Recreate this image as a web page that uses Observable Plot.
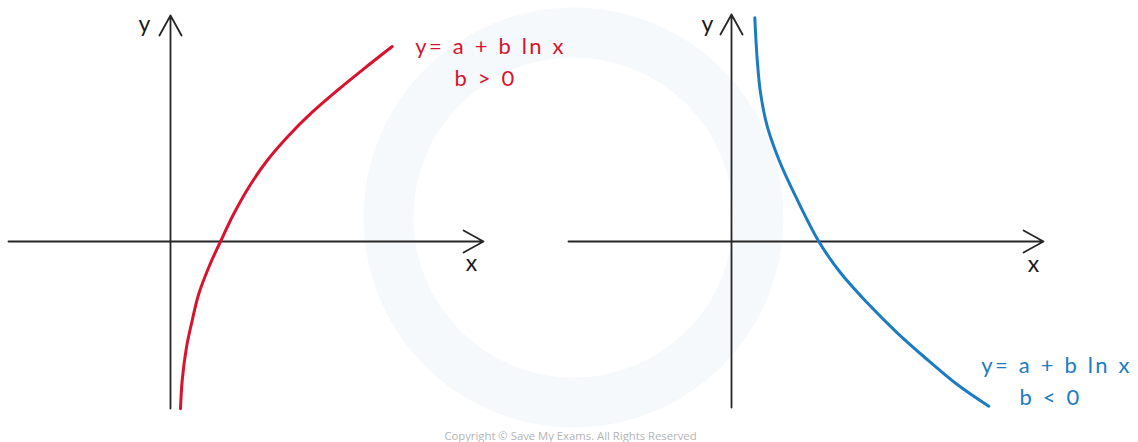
<!DOCTYPE html>
<html>
<head>
<meta charset="utf-8">
<script src="https://cdn.jsdelivr.net/npm/d3@7"></script>
<script src="https://cdn.jsdelivr.net/npm/@observablehq/plot@0.6"></script>
<style>
  html, body { margin: 0; padding: 0; background: #fff; }
  #wrap { position: relative; width: 1138px; height: 442px; overflow: hidden; }
  #caption { position: absolute; left: 0; width: 1141px; top: 428px; text-align: center;
    font: 11.3px "Open Sans", sans-serif; color: #b4b4b4; }
  #chart svg text { letter-spacing: 2.2px; word-spacing: 1px; }
</style>
</head>
<body>
<div id="wrap"><div id="chart"></div><div id="caption">Copyright © Save My Exams. All Rights Reserved</div></div>
<script>
// Panels (one per sign of b)
const panels = ["b > 0", "b < 0"];
const curveColors = ["#d7132f", "#1b7cc4"];

// Curves (units: 20 px, origin at the axes crossing)
const redX  = [0.5, 0.585, 0.8, 1.085, 1.415, 1.915, 2.5, 3.165, 3.915, 4.835, 5.915, 7.085, 8.335, 9.665, 11.085];
const redY  = [-8.365, -6.95, -5.285, -3.95, -2.615, -1.285, 0, 1.385, 2.715, 4.05, 5.3, 6.465, 7.55, 8.635, 9.75];
const blueX = [1.165, 1.285, 1.45, 1.785, 2.365, 3.2, 4.365, 5.45, 6.785, 8.285, 9.785, 11.285, 12.865];
const blueY = [11.185, 9.1, 7.435, 5.765, 4.1, 2.265, 0, -1.565, -3.065, -4.565, -5.9, -7.15, -8.235];

// Axis extents per panel
const xAxisFrom = [-8.1, -8.15];
const xAxisTo   = [15.65, 15.6];
const yAxisFrom = [-8.35, -8.3];
const yAxisTo   = [11.3, 11.35];

// Text
const equationText = ["y= a + b ln x", "y= a + b ln x"];
const conditionText = ["b > 0", "b < 0"];
const axisNames = ["x", "y"];

// Layout of labels (data units)
const eqPos   = [[16.0, 9.75], [16.25, -6.2]];
const condPos = [[15.75, 8.15], [15.95, -7.8]];
const xNamePos = [[15.1, -1.1], [15.15, -1.15]];
const yNamePos = [[-1.25, 10.85], [-1.15, 10.85]];

const redPts  = redX.map((x, i) => ({panel: panels[0], x, y: redY[i]}));
const bluePts = blueX.map((x, i) => ({panel: panels[1], x, y: blueY[i]}));
const axesX = panels.map((p, i) => ({panel: p, x1: xAxisFrom[i], x2: xAxisTo[i], y1: 0, y2: 0}));
const axesY = panels.map((p, i) => ({panel: p, x1: 0, x2: 0, y1: yAxisFrom[i], y2: yAxisTo[i]}));
const eqLabels = panels.map((p, i) => ({panel: p, x: eqPos[i][0], y: eqPos[i][1], text: equationText[i], color: curveColors[i]}));
const condLabels = panels.map((p, i) => ({panel: p, x: condPos[i][0], y: condPos[i][1], text: conditionText[i], color: curveColors[i]}));
const names = panels.flatMap((p, i) => [
  {panel: p, x: xNamePos[i][0], y: xNamePos[i][1], text: axisNames[0]},
  {panel: p, x: yNamePos[i][0], y: yNamePos[i][1], text: axisNames[1]}
]);
const watermark = [{panel: panels[0], x: 20.15, y: 1.2}];

const font = "Lato, sans-serif";

const chart = Plot.plot({
  width: 1138,
  height: 426,
  marginLeft: 8,
  marginRight: 8,
  marginTop: 0,
  marginBottom: 0,
  style: {background: "transparent", overflow: "visible"},
  fx: {domain: panels, padding: 0, axis: null},
  x: {domain: [-8.1, 19.95], axis: null},
  y: {domain: [-9.25, 12.05], axis: null},
  marks: [
    Plot.dot(watermark, {fx: "panel", x: "x", y: "y", r: 185, stroke: "#f6f9fb", strokeWidth: 50, fill: "none"}),
    Plot.arrow(axesX, {fx: "panel", x1: "x1", y1: "y1", x2: "x2", y2: "y2", stroke: "#262626", strokeWidth: 1.8, headLength: 19, headAngle: 58}),
    Plot.arrow(axesY, {fx: "panel", x1: "x1", y1: "y1", x2: "x2", y2: "y2", stroke: "#262626", strokeWidth: 1.8, headLength: 19, headAngle: 58}),
    Plot.line(redPts, {fx: "panel", x: "x", y: "y", stroke: curveColors[0], strokeWidth: 3, curve: "catmull-rom"}),
    Plot.line(bluePts, {fx: "panel", x: "x", y: "y", stroke: curveColors[1], strokeWidth: 3, curve: "catmull-rom"}),
    Plot.text(names, {fx: "panel", x: "x", y: "y", text: "text", fill: "#1a1a1a", fontSize: 23, fontFamily: font}),
    Plot.text(eqLabels, {fx: "panel", x: "x", y: "y", text: "text", fill: "color", fontSize: 22, fontFamily: font}),
    Plot.text(condLabels, {fx: "panel", x: "x", y: "y", text: "text", fill: "color", fontSize: 22, fontFamily: font})
  ]
});
document.getElementById("chart").appendChild(chart);
</script>
</body>
</html>
